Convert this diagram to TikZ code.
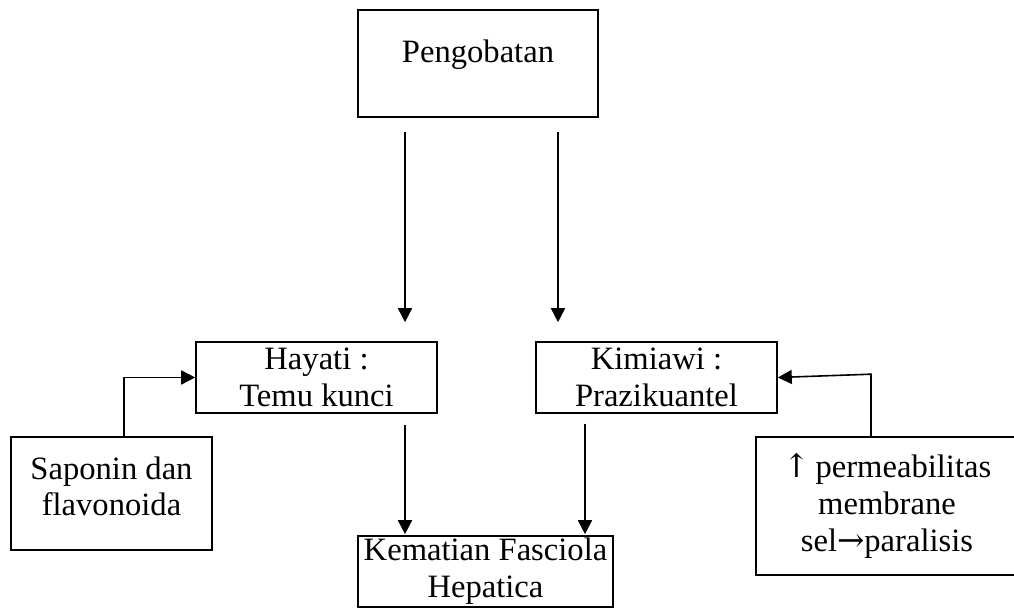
\documentclass[tikz,border=0pt]{standalone}
\usepackage{fontspec}
\setmainfont{Liberation Serif}
\newfontfamily\arrfont{DejaVu Serif}
\usetikzlibrary{arrows.meta}
\usetikzlibrary{calc}
\def\BoxLine{0.8pt}
\def\ArrTip{7pt}

\begin{document}
\begin{tikzpicture}[x=0.5pt, y=-0.5pt, font=\fontsize{16.3}{18.4}\selectfont,
  box/.style={draw, line width=\BoxLine, inner sep=0pt, align=center},
  arr/.style={line width=\BoxLine, -{Triangle[length=\ArrTip, width=\ArrTip]}}]
\useasboundingbox (0, 0) rectangle (1014, 608);

\node[box, minimum width=120pt, minimum height=53.5pt, text depth=12pt] (peng) at (478, 63.5) {Pengobatan};
\node[box, minimum width=120.5pt, minimum height=35.5pt, text depth=-5pt] (hayati) at (316.5, 377.5) {Hayati :\\Temu kunci};
\node[box, minimum width=120.5pt, minimum height=35.5pt, text depth=-5pt] (kimia) at (656.5, 377.5) {Kimiawi :\\Prazikuantel};
\node[box, minimum width=100.5pt, minimum height=56.5pt, text depth=7.3pt] (sapo) at (111.5, 493.5) {Saponin dan\\flavonoida};
\node[box, minimum width=131pt, minimum height=69pt] (perm) at (887, 506) {{\arrfont ↑}\,permeabilitas\\membrane\\sel{\arrfont →}paralisis};
\node[box, minimum width=127.5pt, minimum height=35.5pt] (kemat) at (485.5, 571.5) {Kematian Fasciola\\Hepatica};

\draw[arr] ($(peng.south)+(-73,14)$) -- ($(hayati.north)+(88.5,-19)$);
\draw[arr] ($(peng.south)+(80,14)$) -- ($(kimia.north)+(-98.5,-19)$);
\draw[arr] ($(hayati.south)+(88.5,11)$) -- ($(kemat.north)+(-80.5,-1)$);
\draw[arr] ($(kimia.south)+(-71.5,10)$) -- ($(kemat.north)+(99.5,-1)$);

% side inputs
\draw[arr] ($(sapo.north)+(12.5,0)$) |- (hayati.west);
\draw[arr] ($(perm.north)+(-16,0)$) -- ++(0,-62) -- (kimia.east);
\end{tikzpicture}
\end{document}
